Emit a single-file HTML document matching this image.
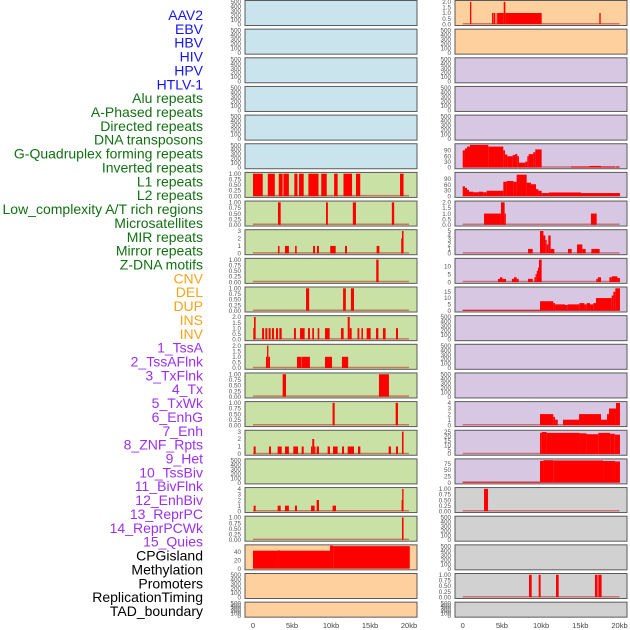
<!DOCTYPE html>
<html><head><meta charset="utf-8"><style>
html,body{margin:0;padding:0;background:#fff;}
svg{display:block;font-family:"Liberation Sans",sans-serif;}
</style></head><body>
<svg id="chart" width="630" height="630" viewBox="0 0 630 630" xmlns="http://www.w3.org/2000/svg"></svg>
<script>
// ---- data ----
const trackLabels = ["AAV2","EBV","HBV","HIV","HPV","HTLV-1","Alu repeats","A-Phased repeats","Directed repeats","DNA transposons","G-Quadruplex forming repeats","Inverted repeats","L1 repeats","L2 repeats","Low_complexity A/T rich regions","Microsatellites","MIR repeats","Mirror repeats","Z-DNA motifs","CNV","DEL","DUP","INS","INV","1_TssA","2_TssAFlnk","3_TxFlnk","4_Tx","5_TxWk","6_EnhG","7_Enh","8_ZNF_Rpts","9_Het","10_TssBiv","11_BivFlnk","12_EnhBiv","13_ReprPC","14_ReprPCWk","15_Quies","CPGisland","Methylation","Promoters","ReplicationTiming","TAD_boundary"];
const labelGroups = ["virus","virus","virus","virus","virus","virus","repeat","repeat","repeat","repeat","repeat","repeat","repeat","repeat","repeat","repeat","repeat","repeat","repeat","sv","sv","sv","sv","sv","chrom","chrom","chrom","chrom","chrom","chrom","chrom","chrom","chrom","chrom","chrom","chrom","chrom","chrom","chrom","other","other","other","other","other"];
const xTickValues = [0,5,10,15,20];
const xTickLabels = ["0","5kb","10kb","15kb","20kb"];

const leftMax  = [500,500,500,500,500,500,1,1,3,1,1,2,2,1,1,3,500,4,1,54,500,500];
const rightMax = [2,500,500,500,500,118,117,2,5,14,17.7,500,500,500,4,25.5,89,1,500,500,1,500];
const leftColors  = ["blue","blue","blue","blue","blue","blue","green","green","green","green","green","green","green","green","green","green","green","green","green","orange","orange","orange"];
const rightColors = ["orange","orange","purple","purple","purple","purple","purple","purple","purple","purple","purple","purple","purple","purple","purple","purple","purple","grey","grey","grey","grey","grey"];
const leftTicks  = ["e","e","e","e","e","e","q","q","i3","q","q","h2","h2","q","q","i3","e","i4","q","t40","e","e"];
const rightTicks = ["h2","e","e","e","e","t90","t90","h2","i5","t10","t15","e","e","e","i4","t25","t75","q","e","e","q","e"];

const L6 = [[0,1.25,1],[1.9,2.8,1],[3.3,3.8,1],[3.9,4.6,1],[5.3,5.7,1],[5.9,6.5,1],[7.1,8.4,1],[8.75,9.45,1],[10.4,10.85,1],[11.6,12.7,1],[13.2,13.75,1],[18.85,19.3,1]];
const L7 = [[3.2,3.55,1],[9.36,9.6,1],[12.8,13.2,1],[17.8,18.1,1]];
const L8 = [[3.2,3.4,1],[4.1,4.6,1],[5.4,5.6,1],[7.7,7.95,1],[8.2,8.45,1],[9.9,10.6,1],[11.8,12.05,1],[15.85,16.2,1],[19.0,19.1,2],[19.1,19.3,3]];
const L9 = [[15.8,16.1,1]];
const L10 = [[6.8,7.2,1],[11.55,11.9,1],[12.55,12.95,1]];
const L11 = [[0.04,0.13,1],[0.13,0.34,2],[1.16,1.41,1],[1.58,1.84,1],[2.0,2.26,1],[2.43,2.69,1],[2.95,3.2,1],[3.38,3.68,1],[5.25,5.5,1],[6.03,6.62,1],[7.05,7.3,1],[7.6,7.82,1],[8.29,8.5,1],[9.23,9.83,1],[11.28,11.62,1],[12.14,12.4,2],[12.4,12.65,1],[13.4,13.63,1],[13.9,14.1,1],[14.57,15.08,1],[15.77,16.07,1],[16.66,17.0,1],[18.33,18.59,1]];
const L12 = [[1.66,1.8,1],[1.8,1.97,2],[1.97,2.18,1],[5.64,6.2,1],[6.24,7.3,1],[9.23,10.13,1],[11.4,12.2,1]];
const L13 = [[3.8,4.23,1],[16.15,17.43,1]];
const L14 = [[10.2,10.47,1],[18.29,18.59,1]];
const L15 = [[0.08,0.34,1],[2.05,2.31,1],[3.16,3.68,1],[4.1,4.6,1],[5.17,5.77,1],[6.24,6.5,1],[7.44,7.6,1],[7.6,7.85,2],[7.85,8.0,1],[8.16,8.46,1],[9.57,9.87,1],[10.26,10.85,1],[11.41,11.67,1],[12.14,12.95,1],[13.46,13.76,1],[17.39,17.69,1],[18.33,18.59,1],[19.1,19.3,3]];
const L17 = [[0.08,0.34,1],[3.16,3.55,1],[4.1,4.6,1],[5.38,5.64,1],[7.44,7.9,1],[8.16,8.46,2],[10.2,10.64,1],[19.05,19.13,2],[19.13,19.3,4]];
const L18 = [[19.1,19.3,1]];
const L19 = [[0,3.2,43],[3.2,3.4,44],[3.4,9.87,43],[9.87,10.3,55],[10.3,20.1,54]];
const R0 = [[0.93,1.1,2],[3.74,3.91,1],[3.95,4.16,1],[4.33,4.46,1],[4.5,5.23,1],[5.23,5.44,2],[5.44,10.07,1],[17.43,17.6,1]];
const R5 = [[0,0.29,90],[0.29,0.55,100],[0.55,0.93,110],[0.93,3.27,119],[3.27,5.18,110],[5.18,5.4,90],[5.4,5.7,68],[5.7,6.37,59],[6.37,6.67,65],[6.67,6.97,70],[6.97,7.18,59],[7.18,7.99,25],[7.99,8.24,31],[8.24,8.41,59],[8.41,9.0,70],[9.0,9.26,80],[9.26,10.07,95],[13.81,16.15,5],[16.15,17.64,8],[17.64,19.42,5],[19.55,20.02,5]];
const R6 = [[0,0.29,51],[0.29,0.55,43],[0.55,0.8,33],[0.8,1.36,23],[1.36,2.0,20],[2.0,2.63,23],[2.63,3.06,20],[3.06,5.18,28],[5.18,5.61,75],[5.61,6.46,79],[6.46,6.88,75],[6.88,8.16,112],[8.16,8.71,70],[8.71,9.35,62],[9.35,9.65,36],[9.65,10.07,28],[10.07,11.0,16],[11.0,15.09,19],[15.09,20.06,16]];
const R7 = [[2.72,4.88,1],[4.88,5.35,2],[5.35,5.48,1],[16.36,17.09,1]];
const R8 = [[8.33,8.93,1],[9.86,10.3,5],[10.3,10.54,4],[10.54,10.71,3],[10.71,10.92,2],[10.92,11.22,4],[11.22,11.69,1],[13.43,13.9,1],[14.58,15.26,2],[15.26,15.68,1],[16.41,17.47,1]];
const R9 = [[4.5,4.76,2],[4.76,5.06,3],[5.06,5.52,2],[6.28,6.54,2],[6.54,6.88,3],[6.88,7.14,2],[8.33,8.93,2],[9.14,9.3,3],[9.3,9.45,5],[9.45,9.6,7],[9.6,9.73,9],[9.73,10.07,14],[17.04,17.24,2],[17.24,17.64,3],[18.71,19.01,3],[19.01,19.73,3.6],[19.73,20.06,2.5]];
const R10 = [[0,9.86,0.6],[9.86,11.56,7.5],[11.56,11.78,6],[11.78,13.05,5],[13.05,13.39,4.5],[13.39,14.88,5],[14.88,15.52,6],[15.52,15.81,5],[15.81,16.24,6],[16.24,16.66,5],[16.66,17.0,6],[17.0,19.0,10],[19.0,19.22,12],[19.22,19.47,15],[19.47,20.06,17.7]];
const R14 = [[9.86,11.56,2],[11.56,11.78,1.5],[11.78,12.12,1],[12.8,14.84,1],[14.84,17.64,2],[17.64,18.41,1],[18.41,18.66,2],[18.66,19.55,3],[19.55,20.06,4]];
const R15 = [[9.86,10.07,24],[10.07,10.7,25],[10.7,14.9,24],[14.9,15.8,23.5],[15.8,17.3,22.5],[17.3,18.8,24],[18.8,19.4,23],[19.4,20.06,22]];
const R16 = [[0,9.86,3],[9.86,10.3,86],[10.3,11.56,89],[11.56,17.9,88],[17.9,19.42,86],[19.42,20.06,84]];
const R17 = [[2.72,3.23,1]];
const R20 = [[8.46,8.8,1],[9.69,9.94,1],[11.9,12.24,1],[16.87,17.2,1],[17.3,17.72,1]];

const leftSegs  = [null,null,null,null,null,null,L6,L7,L8,L9,L10,L11,L12,L13,L14,L15,null,L17,L18,L19,null,null];
const rightSegs = [R0,null,null,null,null,R5,R6,R7,R8,R9,R10,null,null,null,R14,R15,R16,R17,null,null,R20,null];

const NS = "http://www.w3.org/2000/svg";
const svg = document.getElementById("chart");
const fills = {blue:"#c9e4ec",green:"#c9e1a5",orange:"#fed09e",purple:"#d7c7e2",grey:"#d1d1d1"};
const labelColors = {virus:"#1515f0",repeat:"#127012",sv:"#f5a31c",chrom:"#9b30f0",other:"#000"};
const tickSets = {
  e:[[0,"0"],[100,"100"],[200,"200"],[300,"300"],[400,"400"],[500,"500"]],
  q:[[0,"0.00"],[0.25,"0.25"],[0.5,"0.50"],[0.75,"0.75"],[1,"1.00"]],
  h2:[[0,"0.0"],[0.5,"0.5"],[1,"1.0"],[1.5,"1.5"],[2,"2.0"]],
  i3:[[0,"0"],[1,"1"],[2,"2"],[3,"3"]],
  i4:[[0,"0"],[1,"1"],[2,"2"],[3,"3"],[4,"4"]],
  i5:[[0,"0"],[1,"1"],[2,"2"],[3,"3"],[4,"4"],[5,"5"]],
  t40:[[0,"0"],[20,"20"],[40,"40"]],
  t90:[[0,"0"],[30,"30"],[60,"60"],[90,"90"]],
  t10:[[0,"0"],[5,"5"],[10,"10"]],
  t15:[[0,"0"],[5,"5"],[10,"10"],[15,"15"]],
  t25:[[0,"0"],[5,"5"],[10,"10"],[15,"15"],[20,"20"],[25,"25"]],
  t75:[[0,"0"],[25,"25"],[50,"50"],[75,"75"]]
};
const cols = [
  {x0:245,x1:417,d0:253,d1:409,tickX:241,max:leftMax,colors:leftColors,ticks:leftTicks,segs:leftSegs,side:"left"},
  {x0:455,x1:627,d0:462.7,d1:619.5,tickX:451,max:rightMax,colors:rightColors,ticks:rightTicks,segs:rightSegs,side:"right"}
];
function mk(tag, attrs){const e=document.createElementNS(NS,tag);for(const k in attrs)e.setAttribute(k,attrs[k]);return e;}

trackLabels.forEach((t,i)=>{
  const el = mk("text",{x:203,y:(20+i*13.86).toFixed(2),"text-anchor":"end","font-size":"14",fill:labelColors[labelGroups[i]]});
  
  
  el.textContent = t;
  svg.appendChild(el);
});

cols.forEach(c=>{
  const xs = kb => c.d0 + (kb/20)*(c.d1-c.d0);
  for(let r=0;r<22;r++){
    const top = r*28.65 + 0.5;
    const h = r===21 ? 15 : 25;
    const g = mk("g",{});
    
    
    svg.appendChild(g);
    const bg = mk("rect",{x:c.x0,y:top,width:c.x1-c.x0,height:h,fill:fills[c.colors[r]],stroke:"#5a5a5a","stroke-width":"1"});
    
    
    g.appendChild(bg);
    const ymax = c.max[r];
    const yb = top + h - 1.3, yt = top + 1.3;
    const ys = v => yb - (v/ymax)*(yb-yt);
    const segs = c.segs[r];
    if(segs){
      const base = mk("line",{x1:xs(0),x2:xs(20),y1:yb-0.5,y2:yb-0.5,stroke:"rgba(190,40,40,0.55)","stroke-width":"1.5"});
      
      
      g.appendChild(base);
      segs.forEach(s=>{
        const x1 = xs(s[0]), x2 = xs(s[1]);
        const y = ys(s[2]);
        const b = mk("rect",{x:x1.toFixed(2),y:y.toFixed(2),width:Math.max(1.2,x2-x1).toFixed(2),height:(yb-y).toFixed(2),fill:"#ff0000"});
        
        
        g.appendChild(b);
      });
    }
    tickSets[c.ticks[r]].forEach(tk=>{
      const t = mk("text",{x:c.tickX,y:(ys(tk[0])+2.2).toFixed(2),"text-anchor":"end","font-size":"6.3",fill:"#555"});
      
      
      t.textContent = tk[1];
      g.appendChild(t);
    });
  }
  xTickValues.forEach((v,i)=>{
    const t = mk("text",{x:xs(v).toFixed(2),y:628,"text-anchor":"middle","font-size":"7.5",fill:"#444"});
    
    
    t.textContent = xTickLabels[i];
    svg.appendChild(t);
  });
});
</script>
</body></html>
